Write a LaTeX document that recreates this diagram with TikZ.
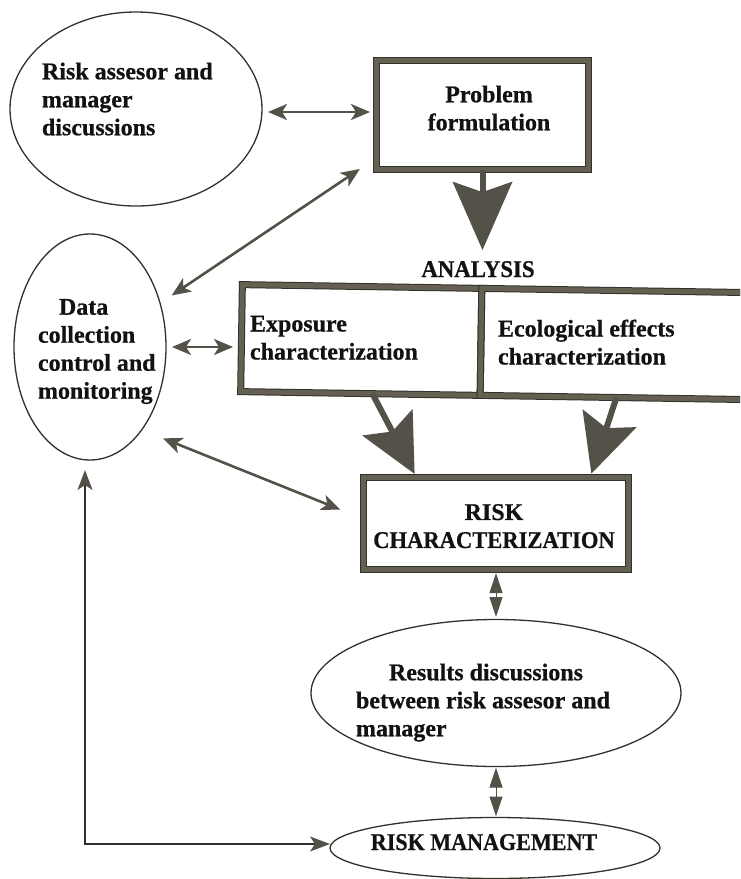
\documentclass[tikz,border=0pt]{standalone}
\usepackage{fontspec}
\setmainfont{Liberation Serif}[BoldFeatures={FakeBold=0.6}]
\usepackage{graphicx}
\usetikzlibrary{arrows.meta,shapes.geometric,calc}
\definecolor{edgeC}{RGB}{50,48,40}
\definecolor{frameC}{RGB}{100,97,82}
\definecolor{arrowC}{RGB}{84,82,72}
\definecolor{inkC}{RGB}{18,18,16}
\begin{document}
\begin{tikzpicture}[x=1pt,y=-1pt,
  lbl/.style={font=\fontsize{24}{28}\selectfont\bfseries, text=inkC, inner sep=0pt, outer sep=0pt},
  framebox/.style={draw=edgeC, line width=1pt, double=frameC, double distance=5pt,
                   inner sep=0pt, outer sep=0pt},
  oval/.style={ellipse, draw=edgeC, line width=1.3pt, inner sep=0pt, outer sep=0pt},
  headS/.tip={Stealth[length=19pt,width=16pt,inset=5pt]},
  headL/.tip={Stealth[length=20pt,width=15pt,inset=5pt,color=arrowC]},
  headBig/.tip={Stealth[length=68pt,width=59pt,inset=10pt]},
  headMid/.tip={Stealth[length=58pt,width=56pt,inset=10pt]},
  headKite/.tip={Triangle[length=20pt,width=13pt]},
  conn/.style={draw=arrowC, line width=2.6pt, {headS}-{headS}},
  lconn/.style={draw=edgeC, line width=1.8pt, {headL}-{headL}},
  bigarrow/.style={draw=arrowC, line width=6pt},
  kite/.style={draw=arrowC, line width=1pt, {headKite}-{headKite}}
]
\useasboundingbox (0,0) rectangle (740,879);
\clip (0,0) rectangle (740,879);
\fill[white] (0,0) rectangle (740,879);

% discussion circle and problem formulation box
\node[oval, minimum width=252pt, minimum height=194pt] (disc) at (136,109) {};
\node[lbl, anchor=north west, align=left] (discT) at (42,62.6)
  {Risk assesor and\\manager\\discussions};
\node[framebox, minimum width=212pt, minimum height=109pt] (prob) at (482.5,115) {};
\node[lbl, anchor=north, align=center] (probT) at (489,85.6) {Problem\\formulation};

% analysis block
\node[lbl, anchor=base] (anlT) at (478,277) {\scalebox{0.95}[1]{ANALYSIS}};
\node[framebox, rotate=-0.9, minimum width=239.5pt, minimum height=107pt] (expo) at (361.25,340) {};
\node[framebox, rotate=-0.9, anchor=west, minimum width=290pt, minimum height=107pt] (ecol) at (expo.east) {};
\node[lbl, anchor=north west, align=left] (expoT) at (250,315.8) {Exposure\\characterization};
\node[lbl, anchor=north west, align=left] (ecolT) at (498,319.6) {Ecological effects\\characterization};

% data collection ellipse
\node[oval, minimum width=152pt, minimum height=226pt] (data) at (90,347) {};
\node[lbl, anchor=north west, align=left] (dataT) at (38,299)
  {\hspace*{21pt}Data\\collection\\control and\\monitoring};

% risk characterization, results, management
\node[framebox, minimum width=265pt, minimum height=92pt] (risk) at (496,523.5) {};
\node[lbl, anchor=north, align=center] (riskT) at (494,504.1)
  {RISK\\\scalebox{0.94}[1]{CHARACTERIZATION}};
\node[oval, minimum width=370pt, minimum height=147pt] (results) at (496,693) {};
\node[lbl, anchor=north west, align=left] (resT) at (356,663.6)
  {\hspace*{33pt}Results discussions\\between risk assesor and\\manager};
\node[oval, minimum width=330pt, minimum height=61pt] (mgmt) at (495,848) {};
\node[lbl, anchor=base] (mgmtT) at (484,850) {\scalebox{0.92}[1]{RISK MANAGEMENT}};

% two-way links
\draw[conn, shorten <=6pt, shorten >=6.5pt]
  ([yshift=-3pt]disc.east) -- ([yshift=-3pt]disc.east -| prob.west);
\draw[conn, shorten <=14pt, shorten >=20pt] (data.32) -- (prob.202);
\draw[conn, shorten <=6pt, shorten >=8.5pt] (data.east) -- (data.east -| expo.west);
\draw[conn, shorten <=23pt, shorten >=25pt] (data.302) -- (risk.178);

% heavy flow arrows
\draw[bigarrow, -{headBig}, shorten >=11pt] (prob.south) -- (prob.south |- anlT.north);
\draw[bigarrow, -{headMid}, shorten >=4pt]
  ($(expo.south west)!0.55!(expo.south east)$) -- ($(risk.north west)!0.2!(risk.north east)$);
\draw[bigarrow, -{headMid}, shorten >=4pt]
  ($(ecol.south west)!0.47!(ecol.south east)$) -- ($(risk.north west)!0.855!(risk.north east)$);

% short two-way links down the right column
\draw[kite, shorten <=3.5pt, shorten >=2.5pt] (risk.south) -- (results.north);
\draw[kite, shorten <=1pt, shorten >=1pt] (results.south) -- (results.south |- mgmt.north);

% feedback from risk management to data collection
\draw[lconn, shorten <=10pt] ([xshift=-5pt]data.south) |- ([yshift=4pt]mgmt.west);
\end{tikzpicture}
\end{document}
